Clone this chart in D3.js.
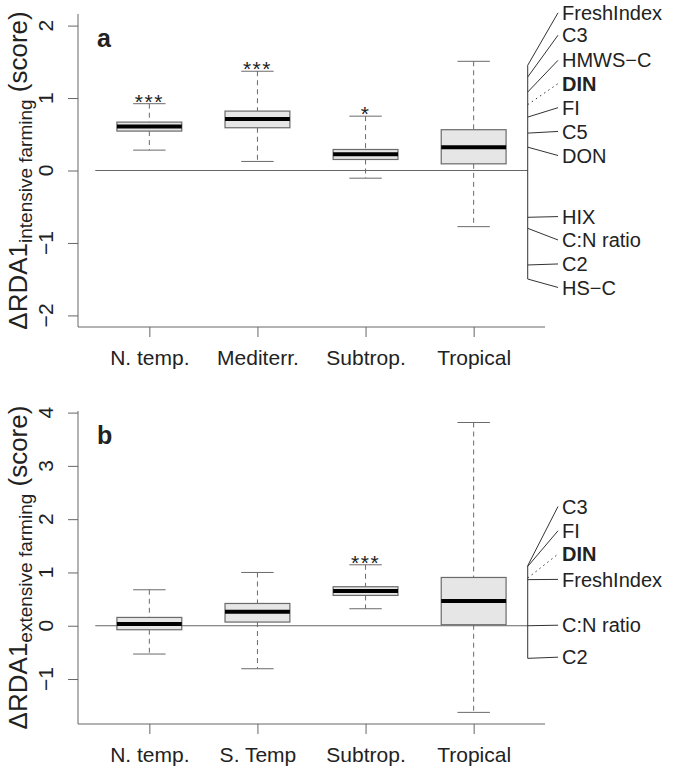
<!DOCTYPE html>
<html>
<head>
<meta charset="utf-8">
<script src="https://cdn.jsdelivr.net/npm/d3@7"></script>
<style>
  html, body { margin: 0; padding: 0; background: #fff; }
  svg { display: block; }
  text { font-family: "Liberation Sans", Arial, Helvetica, sans-serif; fill: #222; }
</style>
</head>
<body>
<svg id="chart" width="675" height="770"></svg>
<script>
// ---------- Data ----------
const categoriesA = ["N. temp.", "Mediterr.", "Subtrop.", "Tropical"];
const whiskerLowA = [0.281, 0.125, -0.106, -0.775];
const q1A         = [0.544, 0.590, 0.152, 0.092];
const medianA     = [0.609, 0.710, 0.225, 0.322];
const q3A         = [0.668, 0.820, 0.290, 0.563];
const whiskerHighA= [0.922, 1.370, 0.750, 1.507];
const signifA     = ["***", "***", "*", ""];

const categoriesB = ["N. temp.", "S. Temp", "Subtrop.", "Tropical"];
const whiskerLowB = [-0.531, -0.807, 0.319, -1.626];
const q1B         = [-0.075, 0.069, 0.569, 0.019];
const medianB     = [0.031, 0.263, 0.650, 0.463];
const q3B         = [0.156, 0.418, 0.732, 0.906];
const whiskerHighB= [0.675, 1.000, 1.144, 3.814];
const signifB     = ["", "", "***", ""];

const yTicksA = [-2, -1, 0, 1, 2];
const yTicksB = [-1, 0, 1, 2, 3, 4];

// variable loadings (position on the axis) and label positions
const varNamesA  = ["FreshIndex", "C3", "HMWS\u2212C", "DIN", "FI", "C5", "DON", "HIX", "C:N ratio", "C2", "HS\u2212C"];
const loadingsA  = [1.452, 1.290, 1.083, 0.909, 0.737, 0.516, 0.322, -0.646, -0.798, -1.304, -1.498];
const labelPosA  = [2.176, 1.867, 1.521, 1.199, 0.867, 0.539, 0.207, -0.636, -0.959, -1.290, -1.614];
const boldA      = [false, false, false, true, false, false, false, false, false, false, false];

const varNamesB  = ["C3", "FI", "DIN", "FreshIndex", "C:N ratio", "C2"];
const loadingsB  = [1.126, 1.113, 0.895, 0.865, 0.000, -0.612];
const labelPosB  = [2.238, 1.782, 1.345, 0.870, 0.010, -0.590];
const boldB      = [false, false, true, false, false, false];

// ---------- Drawing ----------
const svg = d3.select("#chart");
const axisCol = "#666";
const boxStroke = "#6a6a6a";

function panel(opts) {
  const {top, bottom, yDomain, yTicks, cats, lo, q1, med, q3, hi, sig,
         names, loads, lpos, bold, letter, subLabel} = opts;
  const left = 78, right = 545;
  const x = d3.scaleLinear().domain([0.34, 4.66]).range([left, right]);
  const y = d3.scaleLinear().domain(yDomain).range([bottom, top]);
  const g = svg.append("g");

  // y axis
  const yAxis = d3.axisLeft(y).tickValues(yTicks).tickSize(10);
  const ya = g.append("g").attr("transform", `translate(${left},0)`).call(yAxis);
  ya.select(".domain").remove();
  ya.selectAll("line").attr("stroke", axisCol);
  ya.selectAll("text").remove();
  g.append("g").selectAll("text").data(yTicks).join("text")
    .attr("transform", d => `translate(53,${y(d)}) rotate(-90)`)
    .attr("text-anchor", "middle")
    .attr("font-size", 21)
    .text(d => d < 0 ? "\u2212" + Math.abs(d) : d);
  // left border (bty = "l")
  g.append("line").attr("x1", left).attr("x2", left).attr("y1", top).attr("y2", bottom)
    .attr("stroke", axisCol).attr("stroke-width", 1);

  // x axis
  const xAxis = d3.axisBottom(x).tickValues([1, 2, 3, 4]).tickSize(10).tickFormat(d => cats[d - 1]);
  const xa = g.append("g").attr("transform", `translate(0,${bottom})`).call(xAxis);
  xa.select(".domain").remove();
  xa.selectAll("line").attr("stroke", axisCol);
  xa.selectAll("text").attr("font-size", 21).attr("fill", "#222")
    .attr("font-family", "Liberation Sans, Arial, sans-serif").attr("dy", null).attr("y", 38);
  g.append("line").attr("x1", left).attr("x2", right).attr("y1", bottom).attr("y2", bottom)
    .attr("stroke", axisCol).attr("stroke-width", 1);

  // zero line
  g.append("line").attr("x1", x(0.5)).attr("x2", x(4.5)).attr("y1", y(0)).attr("y2", y(0))
    .attr("stroke", axisCol).attr("stroke-width", 1);

  // boxes
  const idx = d3.range(cats.length);
  const bw = 0.3, sw = 0.15;
  const bg = g.append("g");
  idx.forEach(i => {
    const c = i + 1;
    bg.append("line").attr("x1", x(c)).attr("x2", x(c)).attr("y1", y(hi[i])).attr("y2", y(q3[i]))
      .attr("stroke", boxStroke).attr("stroke-dasharray", "5,4");
    bg.append("line").attr("x1", x(c)).attr("x2", x(c)).attr("y1", y(q1[i])).attr("y2", y(lo[i]))
      .attr("stroke", boxStroke).attr("stroke-dasharray", "5,4");
    [hi[i], lo[i]].forEach(v => {
      bg.append("line").attr("x1", x(c - sw)).attr("x2", x(c + sw)).attr("y1", y(v)).attr("y2", y(v))
        .attr("stroke", boxStroke);
    });
    bg.append("rect").attr("x", x(c - bw)).attr("width", x(c + bw) - x(c - bw))
      .attr("y", y(q3[i])).attr("height", y(q1[i]) - y(q3[i]))
      .attr("fill", "#e6e6e6").attr("stroke", boxStroke).attr("stroke-width", 1.2);
    bg.append("line").attr("x1", x(c - bw)).attr("x2", x(c + bw)).attr("y1", y(med[i])).attr("y2", y(med[i]))
      .attr("stroke", "#000").attr("stroke-width", 4);
    if (sig[i]) {
      bg.append("text").attr("x", x(c)).attr("y", y(hi[i]) + 5)
        .attr("text-anchor", "middle").attr("font-size", 21).attr("letter-spacing", 1.5)
        .text(sig[i]);
    }
  });

  // variable annotation
  const ax = x(4.5), lx = 558, tx = 562;
  g.append("line").attr("x1", ax).attr("x2", ax)
    .attr("y1", y(d3.max(loads))).attr("y2", y(d3.min(loads)))
    .attr("stroke", "#333").attr("stroke-width", 1);
  names.forEach((n, i) => {
    g.append("line").attr("x1", ax).attr("y1", y(loads[i])).attr("x2", lx).attr("y2", y(lpos[i]))
      .attr("stroke", "#333").attr("stroke-width", 1)
      .attr("stroke-dasharray", bold[i] ? "1.5,3.5" : null);
    g.append("text").attr("x", tx).attr("y", y(lpos[i])).attr("dy", "0.36em")
      .attr("font-size", 20).attr("font-weight", bold[i] ? "bold" : "normal")
      .attr("fill", bold[i] ? "#000" : "#222")
      .text(n);
  });

  // panel letter
  g.append("text").attr("x", 97).attr("y", top + 33).attr("font-size", 25)
    .attr("font-weight", "bold").attr("fill", "#000").text(letter);

  // y title
  const cy = (top + bottom) / 2;
  const t = g.append("text").attr("transform", `translate(27,${cy}) rotate(-90)`)
    .attr("text-anchor", "middle").attr("font-size", 26);
  t.append("tspan").text("\u0394RDA1");
  t.append("tspan").attr("font-size", 19).attr("dy", 5).text(subLabel);
  t.append("tspan").attr("dy", -5).text(" (score)");
}

panel({top: 14, bottom: 327, yDomain: [-2.16, 2.16], yTicks: yTicksA,
  cats: categoriesA, lo: whiskerLowA, q1: q1A, med: medianA, q3: q3A, hi: whiskerHighA, sig: signifA,
  names: varNamesA, loads: loadingsA, lpos: labelPosA, bold: boldA, letter: "a",
  subLabel: "intensive farming"});

panel({top: 411, bottom: 724, yDomain: [-1.844, 4.03], yTicks: yTicksB,
  cats: categoriesB, lo: whiskerLowB, q1: q1B, med: medianB, q3: q3B, hi: whiskerHighB, sig: signifB,
  names: varNamesB, loads: loadingsB, lpos: labelPosB, bold: boldB, letter: "b",
  subLabel: "extensive farming"});
</script>
</body>
</html>
